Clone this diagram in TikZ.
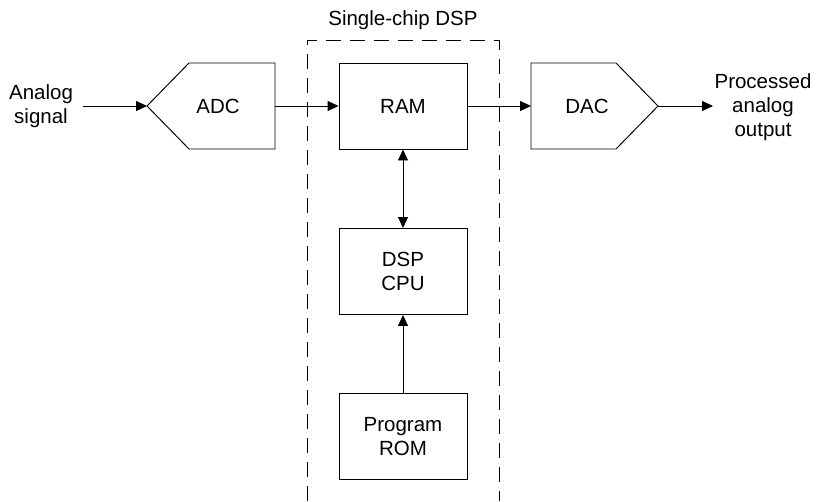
\documentclass[tikz,border=0pt]{standalone}
\usepackage{fontspec}
\setmainfont{Liberation Sans}
\usetikzlibrary{arrows.meta}
\begin{document}
\begin{tikzpicture}[x=1pt,y=-1pt,
  font=\fontsize{20.5}{24}\selectfont,
  line width=0.95pt,
  arr/.style={-{Triangle[length=11pt,width=10pt]}},
  darr/.style={{Triangle[length=11pt,width=10pt]}-{Triangle[length=11pt,width=10pt]}},
  blk/.style={draw, minimum width=128pt, minimum height=86pt, inner sep=0pt, align=center},
  lbl/.style={align=center, inner sep=0pt},
  chipline/.style={dash pattern=on 15pt off 9pt}]
\useasboundingbox (0,0) rectangle (818,501);
% dashed chip boundary
\draw[chipline] (307,501) -- (307,40) -- (499,40) -- (499,501);
\node[lbl] (chip) at (403,20) {Single-chip DSP};
% ADC
\coordinate (adctip) at (147,106);
\coordinate (adcout) at (275,106);
\draw (adctip) -- (189,63) -- (275,63) -- (275,149) -- (189,149) -- cycle;
\node[lbl] (adc) at (218,106) {ADC};
% DAC
\coordinate (dacin) at (531,106);
\coordinate (dactip) at (658,106);
\draw (dactip) -- (616,63) -- (531,63) -- (531,149) -- (616,149) -- cycle;
\node[lbl] (dac) at (587,106) {DAC};
% internal blocks
\node[blk] (ram) at (403,106) {RAM};
\node[blk] (cpu) at (403,271.5) {DSP\\CPU};
\node[blk] (rom) at (403,436.5) {Program\\ROM};
% labels
\node[lbl] (in) at (41,106) {Analog\\signal};
\node[lbl] (out) at (763,107) {Processed\\analog\\output};
\coordinate (instart) at (83,106);
\coordinate (outend) at (713,106);
% connectors
\draw[arr] (instart) -- (adctip);
\draw[arr] (adcout) -- (ram.west);
\draw[arr] (ram.east) -- (dacin);
\draw[arr] (dactip) -- (outend);
\draw[darr] (ram.south) -- (cpu.north);
\draw[arr] (rom.north) -- (cpu.south);
\end{tikzpicture}
\end{document}
